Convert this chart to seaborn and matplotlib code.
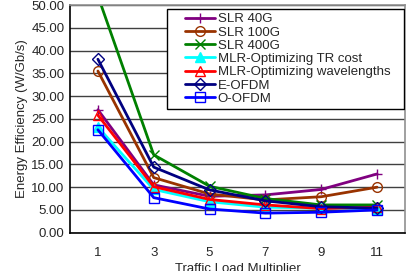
import pandas as pd
import numpy as np
import matplotlib
matplotlib.use('Agg')
import matplotlib.pyplot as plt
from matplotlib.patches import Rectangle
import seaborn as sns

# data
load = [1, 3, 5, 7, 9, 11]
names = ['SLR 40G', 'SLR 100G', 'SLR 400G', 'MLR-Optimizing TR cost',
         'MLR-Optimizing wavelengths', 'E-OFDM', 'O-OFDM']
slr40 = [27.0, 10.5, 8.0, 8.3, 9.5, 12.9]
slr100 = [35.5, 12.1, 8.5, 7.2, 7.9, 10.0]
slr400 = [52.0, 17.1, 10.2, 7.5, 6.1, 6.1]
mlr_tr = [23.2, 9.5, 6.8, 5.6, 5.4, 5.3]
mlr_wl = [25.8, 10.1, 7.3, 6.1, 5.3, 5.6]
eofdm = [38.1, 14.4, 9.4, 7.0, 5.7, 5.4]
oofdm = [22.6, 7.7, 5.2, 4.3, 4.5, 5.0]
yticks = np.arange(0, 50.01, 5)

sns.set_style('white')
plt.rcParams['font.family'] = ['Liberation Sans', 'DejaVu Sans']

cols = ['#800080', '#993300', '#008000', '#00FFFF', '#FF0000', '#000080', '#0000FF']
mk = ['+', 'o', 'x', '^', '^', 'D', 's']
filled = [True, False, True, True, False, False, False]

dat = pd.DataFrame({'Load': load * 7,
                    'Eff': slr40 + slr100 + slr400 + mlr_tr + mlr_wl + eofdm + oofdm,
                    'Series': np.repeat(names, len(load))})

fig = plt.figure(figsize=(4.1, 2.71), dpi=100)
ax = fig.add_axes([0.1707, 0.1413, 0.817, 0.8402])
for nm, c, m, f in zip(names, cols, mk, filled):
    d = dat[dat.Series == nm]
    sns.lineplot(x='Load', y='Eff', data=d, ax=ax, color=c, lw=2, marker=m,
                 ms=7 if m != 'D' else 6, mew=1.0,
                 mfc=c if f else 'none', mec=c, label=nm, clip_on=True)

ax.set_xlim(0, 12)
ax.set_ylim(0, 50)
ax.set_yticks(yticks)
ax.set_yticklabels(['{:.2f}'.format(v) for v in yticks], fontsize=9.5)
ax.set_xticks(load)
ax.set_xticklabels([str(v) for v in load], fontsize=9.5)
ax.set_xticks(range(0, 13, 2), minor=True)
ax.tick_params(axis='x', which='major', length=0, pad=10)
ax.tick_params(axis='x', which='minor', length=4, width=1, direction='out', color='k')
ax.tick_params(axis='y', length=3, direction='out', color='k', pad=1)
ax.yaxis.grid(True, color='#404040', lw=1)
ax.set_axisbelow(True)
for s in ['left', 'bottom']:
    ax.spines[s].set_color('black')
    ax.spines[s].set_linewidth(1.2)
for s in ['top', 'right']:
    ax.spines[s].set_color('#909090')
    ax.spines[s].set_linewidth(1.2)

ax.set_ylabel('Energy Efficiency (W/Gb/s)', fontsize=9.5, labelpad=2)
ax.set_xlabel('Traffic Load Multiplier', fontsize=9.5, labelpad=3)

# legend box drawn by hand (wide side padding like the original)
ax.add_patch(Rectangle((0.2896, 0.5433), 0.7074, 0.4391, transform=ax.transAxes,
                       facecolor='white', edgecolor='black', lw=1, zorder=4))
leg = ax.legend(loc='upper left', bbox_to_anchor=(0.343, 0.965), fontsize=9.5,
                frameon=False, handlelength=2.3, handletextpad=0.2,
                labelspacing=0.08, borderpad=0, borderaxespad=0)
leg.set_zorder(5)

fig.savefig('out.png', dpi=100)
